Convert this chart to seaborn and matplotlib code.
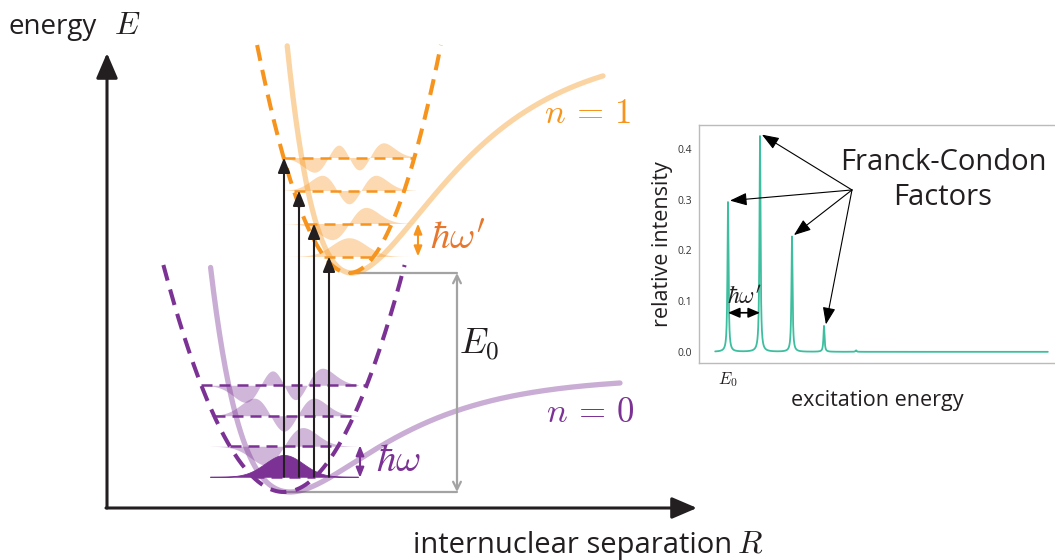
import numpy as np
import matplotlib
matplotlib.use('Agg')
import matplotlib.pyplot as plt
import seaborn as sns
from math import factorial
from numpy.polynomial.hermite import hermval

sns.set_theme(style='white')
plt.rcParams['font.family'] = ['Open Sans', 'DejaVu Sans']
plt.rcParams['mathtext.fontset'] = 'cm'

# ---- two electronic states (diagram units, energy upwards) ----
state_names = [r'$n\,=\,0$', r'$n\,=\,1$']
state_colors = ['#7b3294', '#f7941d']
well_center = [284, 349]
well_min = [68, 287]
well_curv = [0.0156, 0.027]
well_top = [295, 515]
level_spacing = [30.5, 33.0]
n_levels = 4
psi_scale = [19, 17]
psi_amp = [29, 25]

# morse curves
morse_x0 = [290, 352]
morse_depth = [115, 227]
morse_a = [0.01101, 0.0107]
morse_xmax = [620, 603]

# vertical transitions n=0,v=0 -> n=1,v
transition_x = [284, 299, 314, 329]
transition_to = [3, 2, 1, 0]

# absorption spectrum (inset)
peak_pos = [0.4, 1.4, 2.4, 3.4, 4.4]
peak_height = [0.295, 0.425, 0.227, 0.051, 0.003]
yticks = [0.0, 0.1, 0.2, 0.3, 0.4]
ytick_labels = ['0.0', '0.1', '0.2', '0.3', '0.4']

ink = '#231f20'
grey = '#a3a3a3'


def level(i, v):
    return well_min[i] + level_spacing[i] * (v + 0.5)


def psi(v, xi):
    c = np.zeros(v + 1)
    c[v] = 1
    norm = 1.0 / np.sqrt(2**v * factorial(v)) * np.pi**-0.25
    return norm * hermval(xi, c) * np.exp(-xi**2 / 2)


fig = plt.figure(figsize=(10.55, 5.6), dpi=100)
ax = fig.add_axes([0, 0, 1, 1])
ax.set_xlim(0, 1055)
ax.set_ylim(0, 560)
ax.axis('off')

# axes arrows
ax.annotate('', xy=(107, 507), xytext=(107, 52),
            arrowprops=dict(arrowstyle='-|>,head_length=0.7,head_width=0.3',
                            lw=2.2, color=ink, mutation_scale=22, shrinkA=0, shrinkB=0))
ax.annotate('', xy=(697, 52), xytext=(106, 52),
            arrowprops=dict(arrowstyle='-|>,head_length=0.7,head_width=0.3',
                            lw=2.2, color=ink, mutation_scale=22, shrinkA=0, shrinkB=0))
ax.text(9, 533, 'energy', fontsize=20, color=ink, va='center', ha='left')
ax.text(114, 534, '$E$', fontsize=23, color=ink, va='center', ha='left')
ax.text(413, 15, 'internuclear separation', fontsize=21, color=ink, va='center', ha='left')
ax.text(737, 16, '$R$', fontsize=23, color=ink, va='center', ha='left')

for i in range(2):
    col = state_colors[i]
    c = well_center[i]
    k = well_curv[i]

    # morse potential
    xm = np.linspace(150, morse_xmax[i], 800)
    vm = well_min[i] + morse_depth[i] * (1 - np.exp(-morse_a[i] * (xm - morse_x0[i])))**2
    keep = vm <= well_top[i]
    sns.lineplot(x=xm[keep], y=vm[keep], ax=ax, color=col, lw=3.8, alpha=0.4,
                 sort=False, estimator=None)

    # wavefunctions
    xi = np.linspace(-3.9, 3.9, 500)
    for v in range(n_levels):
        E = level(i, v)
        p = psi(v, xi) * psi_amp[i]
        if i == 0 and v == 0:
            ax.fill_between(c + psi_scale[i] * xi, E, E + p, color=col, lw=0.6, zorder=3)
        else:
            ax.fill_between(c + psi_scale[i] * xi, E, E + p, color=col, alpha=0.35, lw=0, zorder=2)

    # harmonic well
    h = np.sqrt((well_top[i] - well_min[i]) / k)
    xp = np.linspace(c - h, c + h, 400)
    ax.plot(xp, well_min[i] + k * (xp - c)**2, color=col, lw=2.9,
            linestyle=(0, (4, 2.3)), zorder=4)

    # vibrational levels
    for v in range(n_levels):
        E = level(i, v)
        hw = np.sqrt((E - well_min[i]) / k)
        ax.plot([c - hw, c + hw], [E, E], color=col, lw=1.8,
                linestyle=(0, (4.4, 2.8)), zorder=4 if v > 0 or i == 1 else 2)

# E0 bracket
ax.plot([well_center[1], 457], [well_min[1], well_min[1]], color=grey, lw=1.6, zorder=1)
ax.plot([well_center[0], 457], [well_min[0], well_min[0]], color=grey, lw=1.6, zorder=1)
ax.annotate('', xy=(457, well_min[1]), xytext=(457, well_min[0]),
            arrowprops=dict(arrowstyle='<->', lw=1.6, color=grey, mutation_scale=14,
                            shrinkA=0, shrinkB=0))
ax.text(459, 215, '$E_0$', fontsize=26, color=ink, va='center', ha='left')

# transitions
for xt, v in zip(transition_x, transition_to):
    ax.annotate('', xy=(xt, level(1, v)), xytext=(xt, level(0, 0)),
                arrowprops=dict(arrowstyle='-|>,head_length=0.7,head_width=0.28',
                                lw=1.5, color=ink, mutation_scale=13, shrinkA=0, shrinkB=0),
                zorder=6)

# quanta
ax.annotate('', xy=(418, level(1, 1)), xytext=(418, level(1, 0)),
            arrowprops=dict(arrowstyle='<|-|>,head_length=0.5,head_width=0.2', lw=1.5,
                            color=state_colors[1], mutation_scale=12, shrinkA=0, shrinkB=0))
ax.text(430, 321, r"$\hbar\omega'$", fontsize=28, color='#e8772e', va='center', ha='left')
ax.annotate('', xy=(360, level(0, 1) + 1), xytext=(360, level(0, 0) - 1),
            arrowprops=dict(arrowstyle='<|-|>,head_length=0.5,head_width=0.2', lw=1.5,
                            color=state_colors[0], mutation_scale=12, shrinkA=0, shrinkB=0))
ax.text(376, 99, r'$\hbar\omega$', fontsize=28, color=state_colors[0], va='center', ha='left')

ax.text(587, 446, state_names[1], fontsize=25, color=state_colors[1], va='center', ha='center')
ax.text(590, 147, state_names[0], fontsize=25, color=state_colors[0], va='center', ha='center')

# ---- inset spectrum ----
sx = np.sort(np.concatenate([np.arange(0, 10.4, 0.004), peak_pos]))
sy = np.zeros_like(sx)
gam = 0.02
for x0, hgt in zip(peak_pos, peak_height):
    sy += hgt * gam**2 / ((sx - x0)**2 + gam**2)

ax2 = fig.add_axes([699 / 1055, 197 / 560, 356 / 1055, 238 / 560])
sns.lineplot(x=sx, y=sy, ax=ax2, color='#3dbf9f', lw=1.3, sort=False, estimator=None)
ax2.set_xlim(-0.506, 10.62)
ax2.set_ylim(-0.022, 0.447)
for s in ['left', 'top', 'bottom']:
    ax2.spines[s].set_color('#bbbbbb')
    ax2.spines[s].set_linewidth(1)
ax2.spines['right'].set_visible(False)
ax2.set_yticks(yticks)
ax2.set_yticklabels(ytick_labels, fontsize=7.5, color='#333333')
ax2.set_xticks([peak_pos[0]])
ax2.set_xticklabels(['$E_0$'], fontsize=12, color=ink)
ax2.tick_params(length=0, pad=5)
ax2.set_xlabel('excitation energy', fontsize=15.5, color=ink, labelpad=1)
ax2.set_ylabel('relative intensity', fontsize=15.5, color=ink, labelpad=3)

ax2.text(7.12, 0.339, 'Franck-Condon\nFactors', fontsize=21, color=ink,
         ha='center', va='center', linespacing=1.25)
src = (4.275, 0.319)
for x0, hgt in zip(peak_pos[:4], peak_height[:4]):
    ax2.annotate('', xy=(x0 + 0.06, hgt + 0.003), xytext=src,
                 arrowprops=dict(arrowstyle='-|>,head_length=0.8,head_width=0.3', lw=0.8,
                                 color='black', mutation_scale=13, shrinkA=0, shrinkB=0))
ax2.annotate('', xy=(peak_pos[1], 0.077), xytext=(peak_pos[0], 0.077),
             arrowprops=dict(arrowstyle='<|-|>,head_length=0.7,head_width=0.3', lw=1.2,
                             color='black', mutation_scale=10, shrinkA=0, shrinkB=0))
ax2.text(0.9, 0.106, r"$\hbar\omega'$", fontsize=17, color=ink, ha='center', va='center')

fig.savefig('out.png', dpi=100)
